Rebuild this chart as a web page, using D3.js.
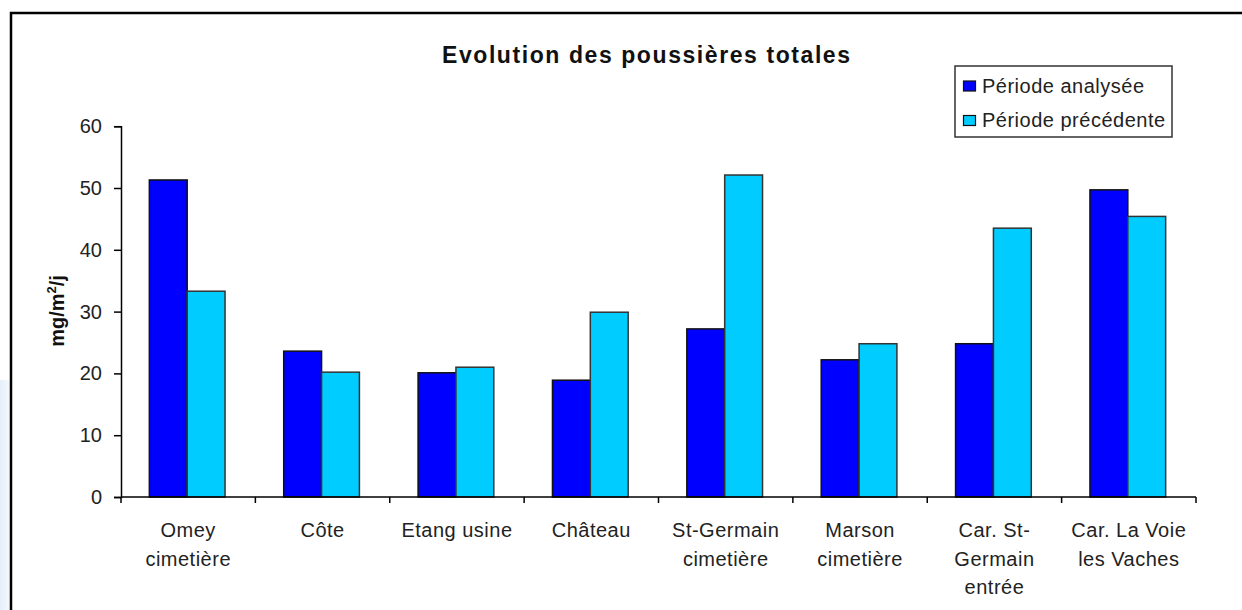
<!DOCTYPE html>
<html><head><meta charset="utf-8">
<script src="https://cdn.jsdelivr.net/npm/d3@7"></script>
<style>
html,body{margin:0;padding:0;background:#fff;}
svg{display:block;font-family:"Liberation Sans",Arial,sans-serif;}
</style></head>
<body>
<svg id="c" width="1242" height="610"></svg>
<script>
const categories = [["Omey","cimetière"],["Côte"],["Etang usine"],["Château"],["St-Germain","cimetière"],["Marson","cimetière"],["Car. St-","Germain","entrée"],["Car. La Voie","les Vaches"]];
const seriesNames = ["Période analysée","Période précédente"];
const analysee = [51.3, 23.6, 20.1, 18.9, 27.2, 22.2, 24.8, 49.7];
const precedente = [33.3, 20.2, 21.0, 29.9, 52.1, 24.8, 43.5, 45.4];
const yTicks = [0,10,20,30,40,50,60];
const colors = ["#0000ff","#00ccff"];

const svg = d3.select("#c");
const defs = svg.append("defs");
const lg = defs.append("linearGradient").attr("id","edge").attr("x1",0).attr("x2",1).attr("y1",0).attr("y2",0);
lg.append("stop").attr("offset",0).attr("stop-color","#e4eefa");
lg.append("stop").attr("offset",1).attr("stop-color","#f6f9fd");
svg.append("rect").attr("x",0).attr("y",380).attr("width",10).attr("height",230).attr("fill","url(#edge)");
svg.append("path").attr("d","M11,611 V13 H1243").attr("fill","none").attr("stroke","#000").attr("stroke-width",2.5);

const x0 = 121, x1 = 1196, yTop = 126.2, yBot = 497;
const x = d3.scaleBand().domain(d3.range(categories.length)).range([x0,x1]).paddingInner(0).paddingOuter(0);
const y = d3.scaleLinear().domain([0,60]).range([yBot,yTop]);
const bw = x.bandwidth()/3.55;
const FS = 20, LS = 0.5;

const g = svg.append("g");
const data = categories.map((c,i)=>[analysee[i],precedente[i]]);
data.forEach((vals,i)=>{
  const cx = x(i)+x.bandwidth()/2 - 1;
  vals.forEach((v,j)=>{
    g.append("rect")
      .attr("x", cx - bw + j*bw)
      .attr("y", y(v))
      .attr("width", bw)
      .attr("height", y(0)-y(v))
      .attr("fill", colors[j])
      .attr("stroke", j===0?"#111":"#333")
      .attr("stroke-width", 1.5);
  });
});

// y axis
const ya = svg.append("g").attr("transform",`translate(${x0},0)`)
  .call(d3.axisLeft(y).tickValues(yTicks).tickSize(7).tickPadding(12).tickFormat(d3.format("d")));
ya.select(".domain").attr("stroke","#000").attr("stroke-width",1.5);
ya.selectAll(".tick line").attr("stroke","#000").attr("stroke-width",1.5);
ya.selectAll("text").attr("font-size",FS).attr("fill","#222").attr("font-family","Liberation Sans, Arial, sans-serif");

// x axis
const xa = svg.append("g").attr("transform",`translate(0,${yBot})`);
xa.append("line").attr("x1",x0).attr("x2",x1).attr("y1",0).attr("y2",0).attr("stroke","#000").attr("stroke-width",1.5);
d3.range(categories.length+1).forEach(i=>{
  const tx = i<categories.length ? x(i) : x1;
  xa.append("line").attr("x1",tx).attr("x2",tx).attr("y1",0).attr("y2",6).attr("stroke","#000").attr("stroke-width",1.5);
});
categories.forEach((lines,i)=>{
  const t = xa.append("text").attr("text-anchor","middle").attr("font-size",FS).attr("letter-spacing",LS).attr("fill","#222")
    .attr("transform",`translate(${x(i)+x.bandwidth()/2},0)`);
  lines.forEach((l,k)=>t.append("tspan").attr("x",0).attr("y",40+k*28.5).text(l));
});

// y label
svg.append("text").attr("transform","translate(64,311) rotate(-90)").attr("text-anchor","middle")
  .attr("font-size",FS).attr("font-weight","bold").attr("fill","#111")
  .html('mg/m<tspan dy="-8" font-size="13">2</tspan><tspan dy="8">/j</tspan>');

// title
svg.append("text").attr("x",442).attr("y",63).attr("font-size",23)
  .attr("font-weight","bold").attr("fill","#111").attr("textLength",408).attr("lengthAdjust","spacing")
  .text("Evolution des poussières totales");

// legend
const leg = svg.append("g");
leg.append("rect").attr("x",955).attr("y",66).attr("width",217).attr("height",71).attr("fill","#fff").attr("stroke","#333").attr("stroke-width",1.5);
seriesNames.forEach((n,j)=>{
  const cy = 86 + j*34.5;
  leg.append("rect").attr("x",963.5).attr("y",cy-5).attr("width",12).attr("height",10).attr("fill",colors[j]).attr("stroke","#111").attr("stroke-width",1.2);
  leg.append("text").attr("x",982).attr("y",cy+6.5).attr("font-size",FS).attr("letter-spacing",LS).attr("fill","#222").text(n);
});
</script>
</body></html>
